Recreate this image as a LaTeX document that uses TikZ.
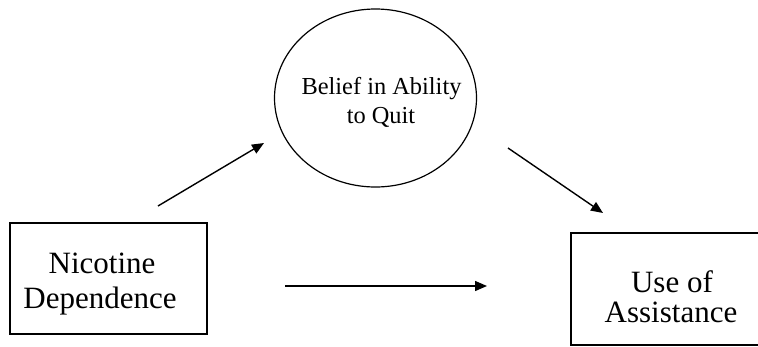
\documentclass[tikz,border=0pt]{standalone}
\usepackage{fontspec}
\setmainfont{Liberation Serif}
\usetikzlibrary{arrows.meta,shapes.geometric}
\begin{document}
\begin{tikzpicture}[x=1pt,y=-1pt,
  box/.style={draw, line width=1.2pt, inner sep=0pt},
  bigtxt/.style={anchor=base, inner sep=0pt, font=\fontsize{31}{35}\selectfont},
  smalltxt/.style={anchor=base, inner sep=0pt, font=\fontsize{24.4}{29}\selectfont},
  arr/.style={line width=1.4pt, -{Triangle[length=12pt,width=10pt]}}]
\useasboundingbox (0,0) rectangle (758,346);
% shapes
\node[box, minimum width=197pt, minimum height=111pt] (nic) at (108.5,278.5) {};
\node[box, minimum width=200pt, minimum height=112pt] (use) at (671,289) {};
\node[box, ellipse, minimum width=202pt, minimum height=178pt] (bel) at (375.5,98) {};
% texts
\node[bigtxt] (nic1) at (102,273) {Nicotine};
\node[bigtxt] (nic2) at (100,308) {Dependence};
\node[bigtxt] (use1) at (672,292) {Use of};
\node[bigtxt] (use2) at (671,322) {Assistance};
\node[smalltxt] (bel1) at (381.5,94.3) {Belief in Ability};
\node[smalltxt] (bel2) at (381,123.3) {to Quit};
% connector ends
\coordinate (a1s) at (158,206);
\coordinate (a1e) at (264,143);
\coordinate (a2s) at (508,148);
\coordinate (a2e) at (603,213);
\coordinate (a3s) at (285,286);
\coordinate (a3e) at (487,286);
\draw[arr] (a1s) -- (a1e);
\draw[arr] (a2s) -- (a2e);
\draw[arr] (a3s) -- (a3e);
\end{tikzpicture}
\end{document}
